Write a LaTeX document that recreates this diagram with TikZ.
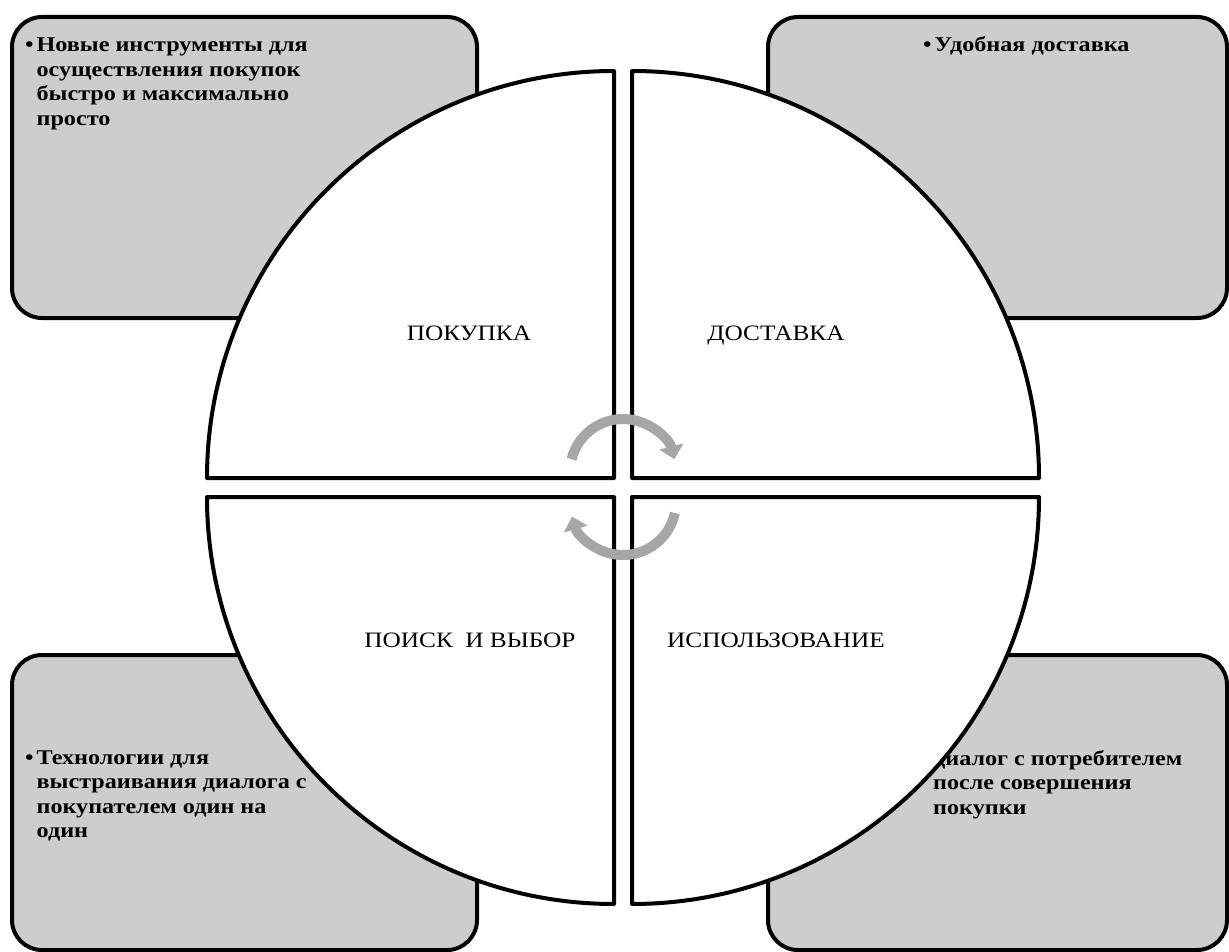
\documentclass[tikz,border=0pt]{standalone}
\usepackage{fontspec}
\setmainfont{LiberationSerif}[Extension=.ttf,UprightFont=*-Regular,BoldFont=*-Bold,ItalicFont=*-Italic,BoldItalicFont=*-BoldItalic]
\newfontfamily\widefont{LiberationSerif}[Extension=.ttf,UprightFont=*-Regular,BoldFont=*-Bold,FakeStretch=1.15]
\usetikzlibrary{arrows.meta}
\definecolor{boxgray}{RGB}{205,205,205}
\definecolor{arrowgray}{RGB}{166,166,166}
\begin{document}
\begin{tikzpicture}[x=1pt,y=-1pt,
  infobox/.style={draw=black,line width=4pt,fill=boxgray,rounded corners=30pt},
  quad/.style={draw=black,line width=4pt,fill=white,line join=round},
  cyc/.style={draw=arrowgray,line width=10pt,-{Triangle[length=13pt,width=24pt]}},
  boxtext/.style={font=\widefont\fontsize{21}{24.5}\selectfont\bfseries,inner sep=0pt,anchor=base west},
  qlabel/.style={font=\widefont\fontsize{22}{26}\selectfont,inner sep=0pt,anchor=base}]
\useasboundingbox (0,0) rectangle (1229,952);
\fill[white] (0,0) rectangle (1229,952);
% grey boxes
\draw[infobox] (12,17) rectangle (477,318);
\draw[infobox] (768,17) rectangle (1227,318);
\draw[infobox] (12,655) rectangle (477,950);
\draw[infobox] (768,655) rectangle (1227,950);
% box texts
\node[boxtext] (tltext) at (25,52) {\begin{tabular}[t]{@{}l@{\hspace{3pt}}l@{}}•&Новые инструменты для\\&осуществления покупок\\&быстро и максимально\\&просто\end{tabular}};
\node[boxtext] (trtext) at (923,52) {\begin{tabular}[t]{@{}l@{\hspace{3pt}}l@{}}•&Удобная доставка\end{tabular}};
\node[boxtext] (bltext) at (25,764) {\begin{tabular}[t]{@{}l@{\hspace{3pt}}l@{}}•&Технологии для\\&выстраивания диалога с\\&покупателем один на\\&один\end{tabular}};
\node[boxtext] (brtext) at (933,765) {\begin{tabular}[t]{@{}l@{}}диалог с потребителем\\после совершения\\покупки\end{tabular}};
% quadrants
\draw[quad] (614,478) -- (207,478) arc[start angle=180,end angle=270,radius=407] -- cycle;
\draw[quad] (632,478) -- (632,71) arc[start angle=270,end angle=360,radius=407] -- cycle;
\draw[quad] (614,497) -- (614,904) arc[start angle=90,end angle=180,radius=407] -- cycle;
\draw[quad] (632,497) -- (1039,497) arc[start angle=0,end angle=90,radius=407] -- cycle;
% cycle arrows
\draw[cyc] ([shift={(194:53)}]623,472) arc[start angle=194,end angle=346,radius=53];
\draw[cyc] ([shift={(12:53)}]623,502) arc[start angle=12,end angle=164,radius=53];
% labels
\node[qlabel] (pokupka) at (469,340) {ПОКУПКА};
\node[qlabel] (dostavka) at (776,340) {ДОСТАВКА};
\node[qlabel] (poisk) at (470,647) {ПОИСК\hspace{6pt} И ВЫБОР};
\node[qlabel] (ispolz) at (776,647) {ИСПОЛЬЗОВАНИЕ};
\end{tikzpicture}
\end{document}
